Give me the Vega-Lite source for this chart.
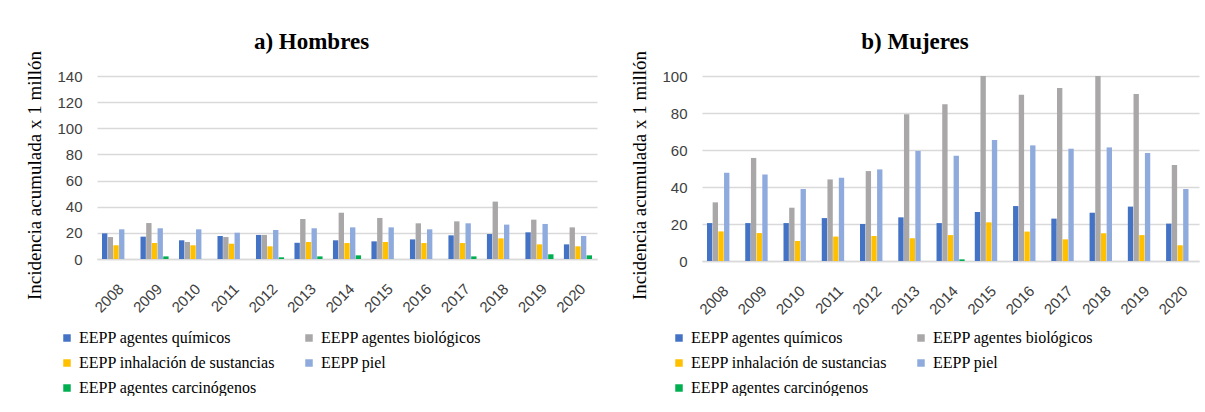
{
  "$schema": "https://vega.github.io/schema/vega-lite/v6.json",
  "padding": {"left": 25, "top": 30, "right": 2, "bottom": 0},
  "background": "white",
  "spacing": 33,
  "data": {"values": [
    {"panel":"H","year":"2008","serie":"EEPP agentes químicos","value":19.6},
    {"panel":"H","year":"2008","serie":"EEPP agentes biológicos","value":16.8},
    {"panel":"H","year":"2008","serie":"EEPP inhalación de sustancias","value":10.5},
    {"panel":"H","year":"2008","serie":"EEPP piel","value":22.7},
    {"panel":"H","year":"2009","serie":"EEPP agentes químicos","value":17.1},
    {"panel":"H","year":"2009","serie":"EEPP agentes biológicos","value":27.5},
    {"panel":"H","year":"2009","serie":"EEPP inhalación de sustancias","value":12.2},
    {"panel":"H","year":"2009","serie":"EEPP piel","value":23.5},
    {"panel":"H","year":"2009","serie":"EEPP agentes carcinógenos","value":2.0},
    {"panel":"H","year":"2010","serie":"EEPP agentes químicos","value":14.3},
    {"panel":"H","year":"2010","serie":"EEPP agentes biológicos","value":13.0},
    {"panel":"H","year":"2010","serie":"EEPP inhalación de sustancias","value":10.5},
    {"panel":"H","year":"2010","serie":"EEPP piel","value":22.7},
    {"panel":"H","year":"2011","serie":"EEPP agentes químicos","value":17.6},
    {"panel":"H","year":"2011","serie":"EEPP agentes biológicos","value":16.8},
    {"panel":"H","year":"2011","serie":"EEPP inhalación de sustancias","value":11.7},
    {"panel":"H","year":"2011","serie":"EEPP piel","value":20.1},
    {"panel":"H","year":"2012","serie":"EEPP agentes químicos","value":18.4},
    {"panel":"H","year":"2012","serie":"EEPP agentes biológicos","value":18.4},
    {"panel":"H","year":"2012","serie":"EEPP inhalación de sustancias","value":9.7},
    {"panel":"H","year":"2012","serie":"EEPP piel","value":22.2},
    {"panel":"H","year":"2012","serie":"EEPP agentes carcinógenos","value":1.3},
    {"panel":"H","year":"2013","serie":"EEPP agentes químicos","value":12.4},
    {"panel":"H","year":"2013","serie":"EEPP agentes biológicos","value":30.6},
    {"panel":"H","year":"2013","serie":"EEPP inhalación de sustancias","value":13.0},
    {"panel":"H","year":"2013","serie":"EEPP piel","value":23.5},
    {"panel":"H","year":"2013","serie":"EEPP agentes carcinógenos","value":2.0},
    {"panel":"H","year":"2014","serie":"EEPP agentes químicos","value":14.3},
    {"panel":"H","year":"2014","serie":"EEPP agentes biológicos","value":35.4},
    {"panel":"H","year":"2014","serie":"EEPP inhalación de sustancias","value":12.2},
    {"panel":"H","year":"2014","serie":"EEPP piel","value":24.2},
    {"panel":"H","year":"2014","serie":"EEPP agentes carcinógenos","value":2.8},
    {"panel":"H","year":"2015","serie":"EEPP agentes químicos","value":13.5},
    {"panel":"H","year":"2015","serie":"EEPP agentes biológicos","value":31.4},
    {"panel":"H","year":"2015","serie":"EEPP inhalación de sustancias","value":13.0},
    {"panel":"H","year":"2015","serie":"EEPP piel","value":24.2},
    {"panel":"H","year":"2016","serie":"EEPP agentes químicos","value":15.0},
    {"panel":"H","year":"2016","serie":"EEPP agentes biológicos","value":27.3},
    {"panel":"H","year":"2016","serie":"EEPP inhalación de sustancias","value":12.2},
    {"panel":"H","year":"2016","serie":"EEPP piel","value":22.7},
    {"panel":"H","year":"2017","serie":"EEPP agentes químicos","value":18.1},
    {"panel":"H","year":"2017","serie":"EEPP agentes biológicos","value":28.8},
    {"panel":"H","year":"2017","serie":"EEPP inhalación de sustancias","value":12.2},
    {"panel":"H","year":"2017","serie":"EEPP piel","value":27.3},
    {"panel":"H","year":"2017","serie":"EEPP agentes carcinógenos","value":2.0},
    {"panel":"H","year":"2018","serie":"EEPP agentes químicos","value":19.1},
    {"panel":"H","year":"2018","serie":"EEPP agentes biológicos","value":43.9},
    {"panel":"H","year":"2018","serie":"EEPP inhalación de sustancias","value":15.8},
    {"panel":"H","year":"2018","serie":"EEPP piel","value":26.3},
    {"panel":"H","year":"2019","serie":"EEPP agentes químicos","value":20.4},
    {"panel":"H","year":"2019","serie":"EEPP agentes biológicos","value":30.1},
    {"panel":"H","year":"2019","serie":"EEPP inhalación de sustancias","value":11.2},
    {"panel":"H","year":"2019","serie":"EEPP piel","value":26.8},
    {"panel":"H","year":"2019","serie":"EEPP agentes carcinógenos","value":3.6},
    {"panel":"H","year":"2020","serie":"EEPP agentes químicos","value":11.2},
    {"panel":"H","year":"2020","serie":"EEPP agentes biológicos","value":24.2},
    {"panel":"H","year":"2020","serie":"EEPP inhalación de sustancias","value":9.7},
    {"panel":"H","year":"2020","serie":"EEPP piel","value":17.6},
    {"panel":"H","year":"2020","serie":"EEPP agentes carcinógenos","value":2.8},
    {"panel":"M","year":"2008","serie":"EEPP agentes químicos","value":20.5},
    {"panel":"M","year":"2008","serie":"EEPP agentes biológicos","value":31.7},
    {"panel":"M","year":"2008","serie":"EEPP inhalación de sustancias","value":16.0},
    {"panel":"M","year":"2008","serie":"EEPP piel","value":47.7},
    {"panel":"M","year":"2009","serie":"EEPP agentes químicos","value":20.5},
    {"panel":"M","year":"2009","serie":"EEPP agentes biológicos","value":55.7},
    {"panel":"M","year":"2009","serie":"EEPP inhalación de sustancias","value":15.1},
    {"panel":"M","year":"2009","serie":"EEPP piel","value":46.8},
    {"panel":"M","year":"2010","serie":"EEPP agentes químicos","value":20.5},
    {"panel":"M","year":"2010","serie":"EEPP agentes biológicos","value":28.8},
    {"panel":"M","year":"2010","serie":"EEPP inhalación de sustancias","value":10.8},
    {"panel":"M","year":"2010","serie":"EEPP piel","value":38.9},
    {"panel":"M","year":"2011","serie":"EEPP agentes químicos","value":23.2},
    {"panel":"M","year":"2011","serie":"EEPP agentes biológicos","value":44.1},
    {"panel":"M","year":"2011","serie":"EEPP inhalación de sustancias","value":13.2},
    {"panel":"M","year":"2011","serie":"EEPP piel","value":45.0},
    {"panel":"M","year":"2012","serie":"EEPP agentes químicos","value":20.0},
    {"panel":"M","year":"2012","serie":"EEPP agentes biológicos","value":48.6},
    {"panel":"M","year":"2012","serie":"EEPP inhalación de sustancias","value":13.5},
    {"panel":"M","year":"2012","serie":"EEPP piel","value":49.5},
    {"panel":"M","year":"2013","serie":"EEPP agentes químicos","value":23.6},
    {"panel":"M","year":"2013","serie":"EEPP agentes biológicos","value":79.3},
    {"panel":"M","year":"2013","serie":"EEPP inhalación de sustancias","value":12.3},
    {"panel":"M","year":"2013","serie":"EEPP piel","value":59.5},
    {"panel":"M","year":"2014","serie":"EEPP agentes químicos","value":20.5},
    {"panel":"M","year":"2014","serie":"EEPP agentes biológicos","value":84.7},
    {"panel":"M","year":"2014","serie":"EEPP inhalación de sustancias","value":14.0},
    {"panel":"M","year":"2014","serie":"EEPP piel","value":56.9},
    {"panel":"M","year":"2014","serie":"EEPP agentes carcinógenos","value":0.9},
    {"panel":"M","year":"2015","serie":"EEPP agentes químicos","value":26.5},
    {"panel":"M","year":"2015","serie":"EEPP agentes biológicos","value":100},
    {"panel":"M","year":"2015","serie":"EEPP inhalación de sustancias","value":20.9},
    {"panel":"M","year":"2015","serie":"EEPP piel","value":65.4},
    {"panel":"M","year":"2016","serie":"EEPP agentes químicos","value":29.7},
    {"panel":"M","year":"2016","serie":"EEPP agentes biológicos","value":89.9},
    {"panel":"M","year":"2016","serie":"EEPP inhalación de sustancias","value":15.9},
    {"panel":"M","year":"2016","serie":"EEPP piel","value":62.5},
    {"panel":"M","year":"2017","serie":"EEPP agentes químicos","value":22.9},
    {"panel":"M","year":"2017","serie":"EEPP agentes biológicos","value":93.5},
    {"panel":"M","year":"2017","serie":"EEPP inhalación de sustancias","value":11.7},
    {"panel":"M","year":"2017","serie":"EEPP piel","value":60.7},
    {"panel":"M","year":"2018","serie":"EEPP agentes químicos","value":26.1},
    {"panel":"M","year":"2018","serie":"EEPP agentes biológicos","value":100},
    {"panel":"M","year":"2018","serie":"EEPP inhalación de sustancias","value":15.0},
    {"panel":"M","year":"2018","serie":"EEPP piel","value":61.4},
    {"panel":"M","year":"2019","serie":"EEPP agentes químicos","value":29.4},
    {"panel":"M","year":"2019","serie":"EEPP agentes biológicos","value":90.3},
    {"panel":"M","year":"2019","serie":"EEPP inhalación de sustancias","value":14.0},
    {"panel":"M","year":"2019","serie":"EEPP piel","value":58.4},
    {"panel":"M","year":"2020","serie":"EEPP agentes químicos","value":20.2},
    {"panel":"M","year":"2020","serie":"EEPP agentes biológicos","value":51.9},
    {"panel":"M","year":"2020","serie":"EEPP inhalación de sustancias","value":8.5},
    {"panel":"M","year":"2020","serie":"EEPP piel","value":38.9}
  ]},
  "config": {
    "font": "Liberation Serif",
    "view": {"stroke": null},
    "title": {"font": "Liberation Serif", "fontSize": 23, "fontWeight": "bold", "color": "black", "anchor": "middle", "frame": "bounds", "offset": -3.5}
  },
  "resolve": {"legend": {"color": "independent"}},
  "hconcat": [
    {
      "width": 500,
      "height": 183,
      "title": {"text": "a) Hombres"},
      "transform": [{"filter": "datum.panel === 'H'"}],
      "mark": {"type": "bar", "clip": true},
      "encoding": {
        "x": {"field": "year", "type": "nominal", "scale": {"paddingInner": 0.27, "paddingOuter": 0.13},
          "axis": {"labelAngle": -45, "title": null, "labelFont": "Liberation Sans", "labelColor": "#404040", "labelFontSize": 15, "labelPadding": 22, "ticks": false, "domainColor": "#D9D9D9", "domainWidth": 1.3, "grid": false}},
        "xOffset": {"field": "serie", "type": "nominal", "scale": {"domain": ["EEPP agentes químicos", "EEPP agentes biológicos", "EEPP inhalación de sustancias", "EEPP piel", "EEPP agentes carcinógenos"], "paddingInner": 0.06}},
        "y": {"field": "value", "type": "quantitative", "scale": {"domain": [0, 140], "nice": false},
          "axis": {"values": [0, 20, 40, 60, 80, 100, 120, 140], "title": "Incidencia acumulada x 1 millón", "titleFont": "Liberation Serif", "titleFontSize": 19, "titleFontWeight": "normal", "titleColor": "black", "titlePadding": 12, "titleY": 99, "labelFont": "Liberation Sans", "labelColor": "#404040", "labelFontSize": 15, "labelPadding": 15, "ticks": false, "domain": false, "gridColor": "#D9D9D9", "gridWidth": 1.3}},
        "color": {"field": "serie", "type": "nominal", "scale": {"domain": ["EEPP agentes químicos", "EEPP agentes biológicos", "EEPP inhalación de sustancias", "EEPP piel", "EEPP agentes carcinógenos"], "range": ["#4472C4", "#A9A7A7", "#FFC000", "#8FAADC", "#00B050"]},
          "legend": {"title": null, "orient": "none", "legendX": -38, "legendY": 254, "direction": "horizontal", "columns": 2, "symbolType": "square", "symbolSize": 56, "symbolStrokeWidth": 0, "labelFont": "Liberation Serif", "labelFontSize": 16, "labelColor": "black", "labelOffset": 4, "labelLimit": 0, "rowPadding": 9, "columnPadding": 26, "padding": 0}}
      }
    },
    {
      "width": 497,
      "height": 185,
      "title": {"text": "b) Mujeres"},
      "transform": [{"filter": "datum.panel === 'M'"}],
      "mark": {"type": "bar", "clip": true},
      "encoding": {
        "x": {"field": "year", "type": "nominal", "scale": {"paddingInner": 0.27, "paddingOuter": 0.13},
          "axis": {"labelAngle": -45, "title": null, "labelFont": "Liberation Sans", "labelColor": "#404040", "labelFontSize": 15, "labelPadding": 22, "ticks": false, "domainColor": "#D9D9D9", "domainWidth": 1.3, "grid": false}},
        "xOffset": {"field": "serie", "type": "nominal", "scale": {"domain": ["EEPP agentes químicos", "EEPP agentes biológicos", "EEPP inhalación de sustancias", "EEPP piel", "EEPP agentes carcinógenos"], "paddingInner": 0.06}},
        "y": {"field": "value", "type": "quantitative", "scale": {"domain": [0, 100], "nice": false},
          "axis": {"values": [0, 20, 40, 60, 80, 100], "title": "Incidencia acumulada x 1 millón", "titleFont": "Liberation Serif", "titleFontSize": 19, "titleFontWeight": "normal", "titleColor": "black", "titlePadding": 12, "titleY": 99, "labelFont": "Liberation Sans", "labelColor": "#404040", "labelFontSize": 15, "labelPadding": 15, "ticks": false, "domain": false, "gridColor": "#D9D9D9", "gridWidth": 1.3}},
        "color": {"field": "serie", "type": "nominal", "scale": {"domain": ["EEPP agentes químicos", "EEPP agentes biológicos", "EEPP inhalación de sustancias", "EEPP piel", "EEPP agentes carcinógenos"], "range": ["#4472C4", "#A9A7A7", "#FFC000", "#8FAADC", "#00B050"]},
          "legend": {"title": null, "orient": "none", "legendX": -31, "legendY": 254, "direction": "horizontal", "columns": 2, "symbolType": "square", "symbolSize": 56, "symbolStrokeWidth": 0, "labelFont": "Liberation Serif", "labelFontSize": 16, "labelColor": "black", "labelOffset": 4, "labelLimit": 0, "rowPadding": 9, "columnPadding": 26, "padding": 0}}
      }
    }
  ]
}
